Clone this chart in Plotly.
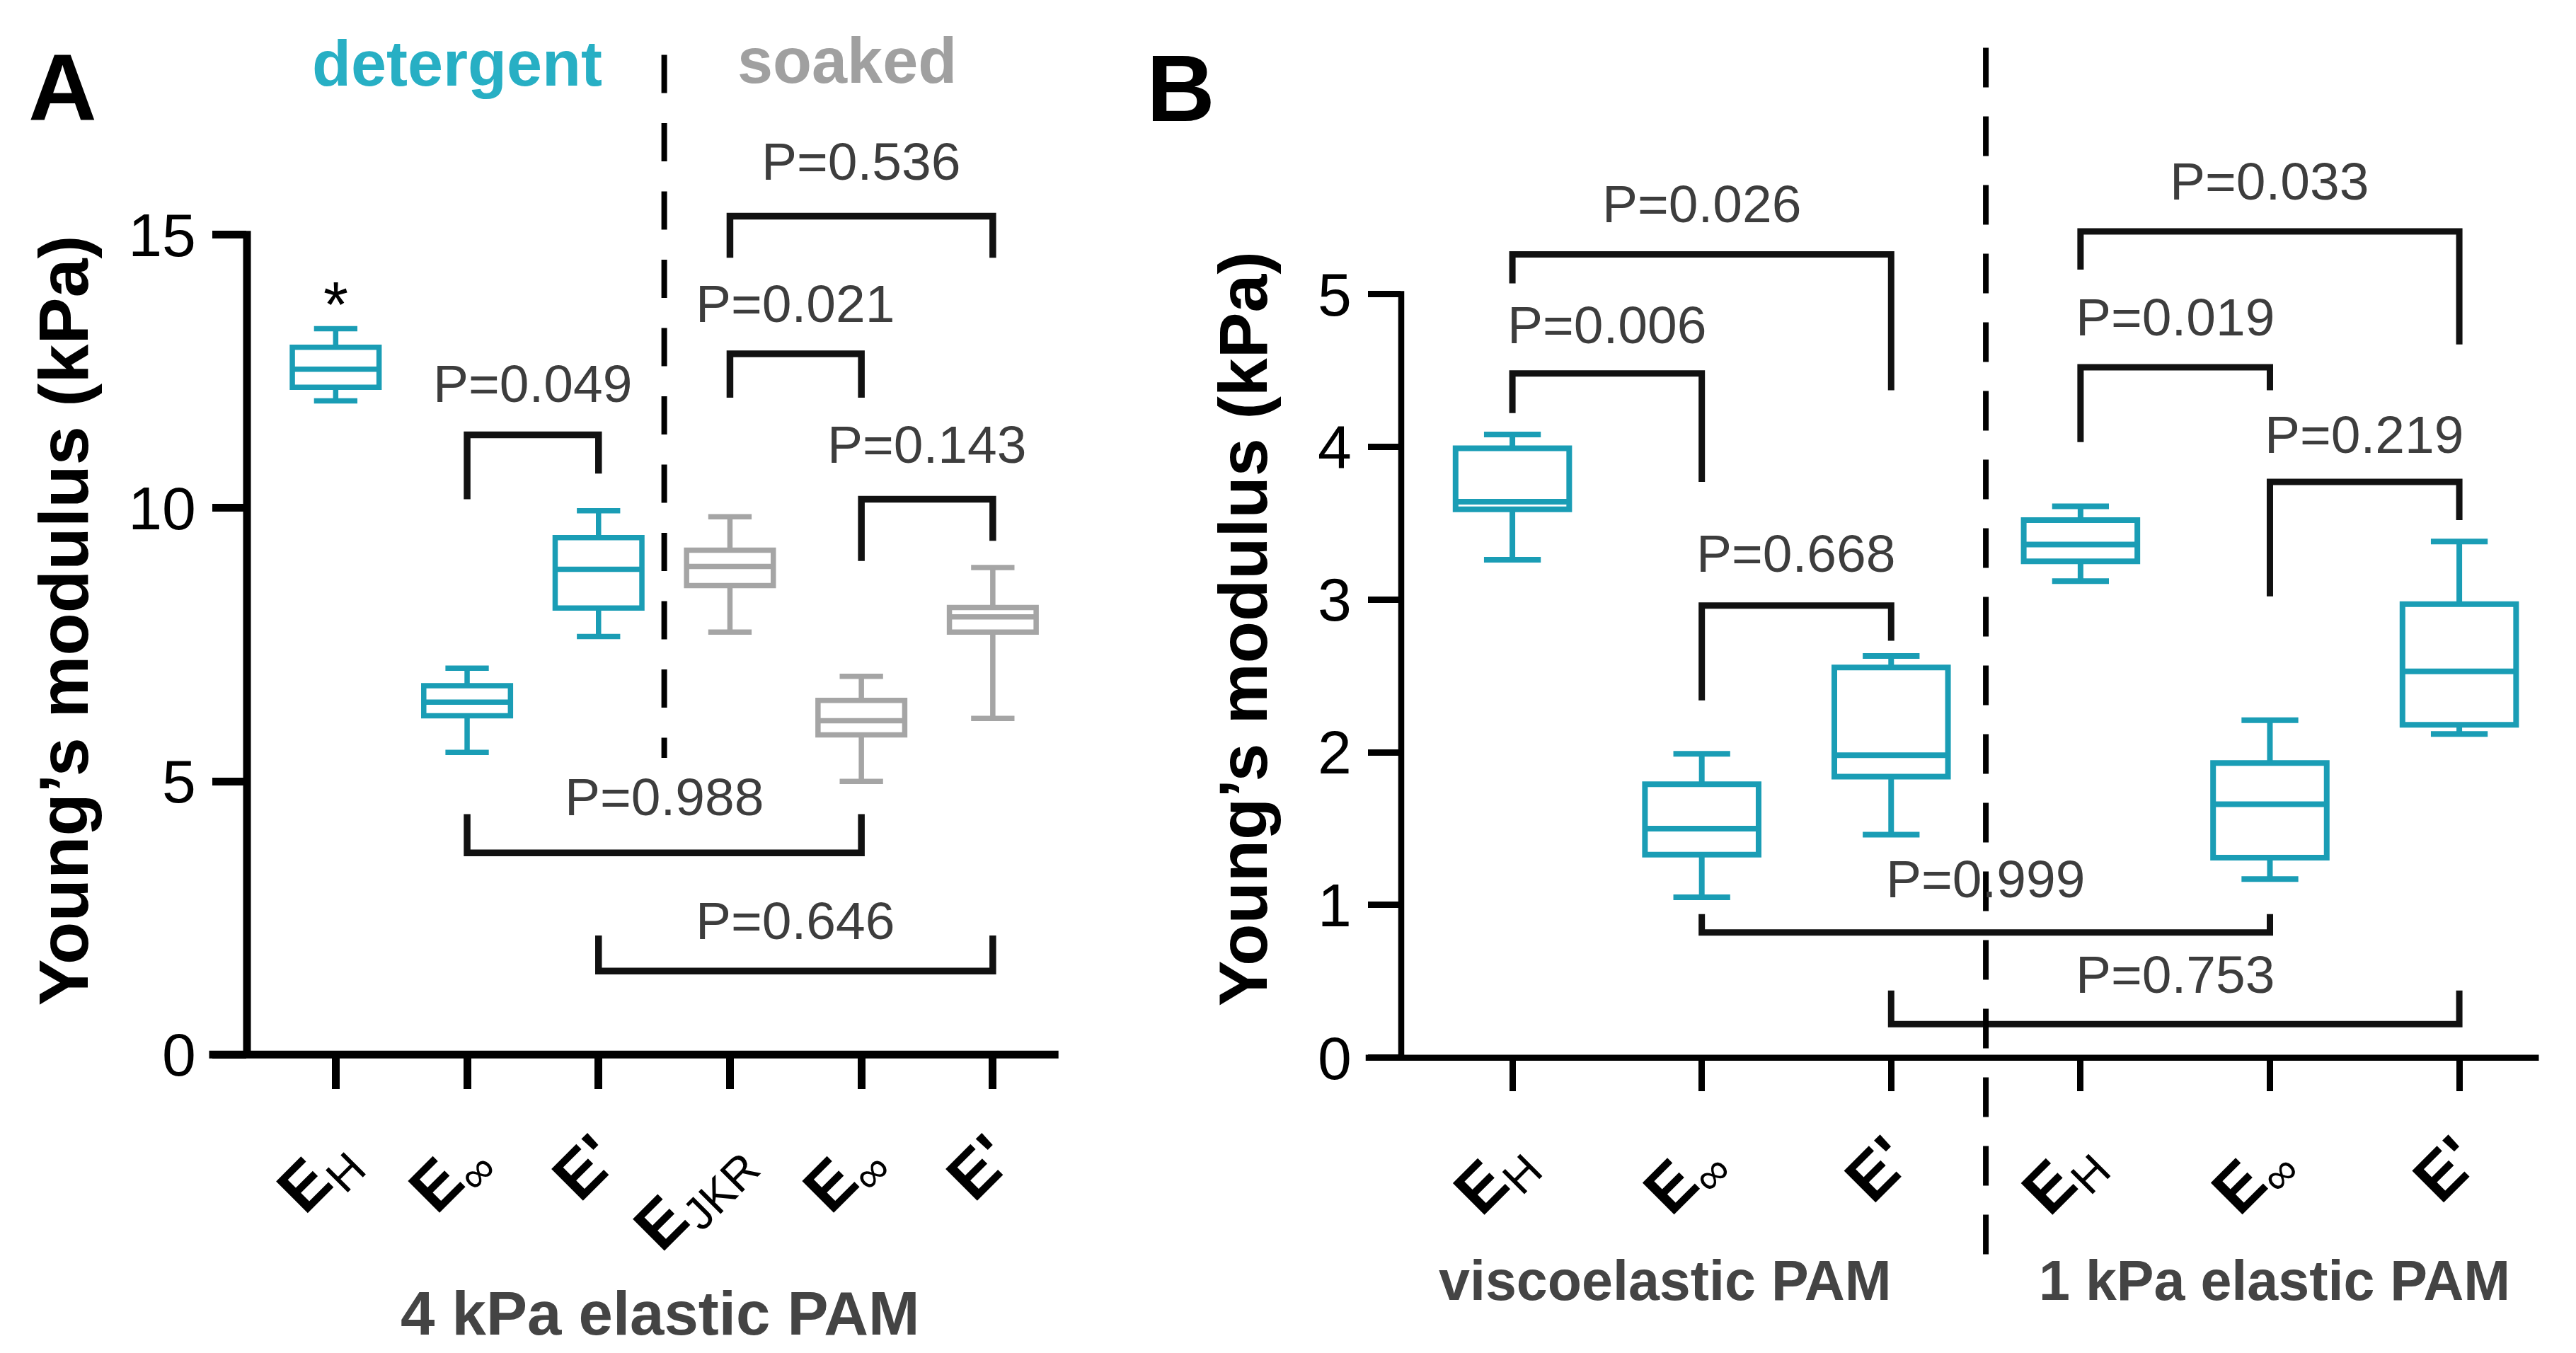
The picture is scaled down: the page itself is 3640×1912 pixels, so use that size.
import plotly.graph_objects as go

W, H = 3640, 1912
FONT = "Liberation Sans, Arial, sans-serif"
TEAL = "#1A9DB5"
TEAL_TXT = "#27AFC4"
GRAY = "#A5A5A5"
GRAY_TXT = "#A0A0A0"
PCOL = "#3d3d3d"

# ---------------- Panel A data ----------------
a_ticktext = ["<b>E</b><sub>H</sub>", "<b>E</b><sub>∞</sub>", "<b>E'</b>",
              "<b>E</b><sub>JKR</sub>", "<b>E</b><sub>∞</sub>", "<b>E'</b>"]
a_x = [0, 1, 2, 3, 4, 5]
a_lower = [11.96, 5.53, 7.65, 7.73, 5.00, 6.15]
a_q1 = [12.21, 6.20, 8.17, 8.58, 5.85, 7.73]
a_med = [12.54, 6.45, 8.88, 8.93, 6.11, 8.01]
a_q3 = [12.94, 6.75, 9.46, 9.23, 6.48, 8.18]
a_upper = [13.28, 7.07, 9.95, 9.84, 6.92, 8.91]
a_group_det = [0, 1, 2]
a_group_soak = [3, 4, 5]
a_yticks = [0, 5, 10, 15]

# brackets: x1, x2, y bar, y left end, y right end, label, label y
a_br_x1 = [1, 3, 3, 4, 1, 2]
a_br_x2 = [2, 4, 5, 5, 4, 5]
a_br_y = [11.34, 12.82, 15.34, 10.16, 3.69, 1.53]
a_br_yl = [10.16, 12.02, 14.58, 9.03, 4.40, 2.18]
a_br_yr = [10.63, 12.02, 14.58, 9.40, 4.40, 2.18]
a_br_lab = ["P=0.049", "P=0.021", "P=0.536", "P=0.143", "P=0.988", "P=0.646"]
a_br_laby = [12.28, 13.74, 16.34, 11.16, 4.72, 2.45]

# ---------------- Panel B data ----------------
b_ticktext = ["<b>E</b><sub>H</sub>", "<b>E</b><sub>∞</sub>", "<b>E'</b>",
              "<b>E</b><sub>H</sub>", "<b>E</b><sub>∞</sub>", "<b>E'</b>"]
b_x = [0, 1, 2, 3, 4, 5]
b_lower = [3.26, 1.05, 1.46, 3.12, 1.17, 2.12]
b_q1 = [3.59, 1.33, 1.84, 3.25, 1.31, 2.18]
b_med = [3.64, 1.50, 1.98, 3.36, 1.66, 2.53]
b_q3 = [3.99, 1.79, 2.555, 3.52, 1.93, 2.97]
b_upper = [4.08, 1.99, 2.63, 3.61, 2.21, 3.38]
b_yticks = [0, 1, 2, 3, 4, 5]

b_br_x1 = [0, 0, 1, 3, 3, 4, 1, 2]
b_br_x2 = [1, 2, 2, 4, 5, 5, 4, 5]
b_br_y = [4.48, 5.26, 2.96, 4.52, 5.41, 3.77, 0.82, 0.22]
b_br_yl = [4.22, 5.07, 2.34, 4.03, 5.16, 3.02, 0.94, 0.44]
b_br_yr = [3.77, 4.37, 2.73, 4.37, 4.67, 3.52, 0.94, 0.44]
b_br_lab = ["P=0.006", "P=0.026", "P=0.668", "P=0.019", "P=0.033", "P=0.219", "P=0.999", "P=0.753"]
b_br_laby = [4.80, 5.59, 3.30, 4.85, 5.74, 4.08, 1.17, 0.545]

# ---------------- geometry (pixels) ----------------
A_XR = [-0.675, 5.5]
A_YR = [0, 18.6]
A_LEFT, A_CAT = 341.0, 185.7
A_ZERO, A_UNIT = 1520.5, 79.23
A_LEN = (A_XR[1] - A_XR[0]) * A_CAT
A_xdom = [A_LEFT / W, (A_LEFT + A_LEN) / W]
A_ydom = [1 - A_ZERO / H, 1 - (A_ZERO - A_YR[1] * A_UNIT) / H]

B_XR = [-0.587, 5.42]
B_YR = [0, 6.85]
B_LEFT, B_CAT = 1972.0, 267.6
B_ZERO, B_UNIT = 1525.0, 221.4
B_LEN = (B_XR[1] - B_XR[0]) * B_CAT
B_xdom = [B_LEFT / W, (B_LEFT + B_LEN) / W]
B_ydom = [1 - B_ZERO / H, 1 - (B_ZERO - B_YR[1] * B_UNIT) / H]

A_AXW, B_AXW = 11, 8.5
A_TICKLEN, B_TICKLEN = 48, 46


def ydom(v, rng):
    return (v - rng[0]) / (rng[1] - rng[0])


fig = go.Figure()


def add_box(xs, idx, lo, q1, md, q3, up, color, width, lw, xa, ya):
    fig.add_trace(go.Box(
        x=[xs[i] for i in idx], q1=[q1[i] for i in idx], median=[md[i] for i in idx],
        q3=[q3[i] for i in idx], lowerfence=[lo[i] for i in idx], upperfence=[up[i] for i in idx],
        width=width, whiskerwidth=0.5, boxpoints=False,
        line=dict(color=color, width=lw), fillcolor="rgba(255,255,255,0)",
        xaxis=xa, yaxis=ya, hoverinfo="skip", showlegend=False))


add_box(a_x, a_group_det, a_lower, a_q1, a_med, a_q3, a_upper, TEAL, 0.66, 7.5, "x", "y")
add_box(a_x, a_group_soak, a_lower, a_q1, a_med, a_q3, a_upper, GRAY, 0.66, 7.5, "x", "y")
add_box(b_x, list(range(6)), b_lower, b_q1, b_med, b_q3, b_upper, TEAL, 0.6, 8, "x2", "y2")

annotations = []


def add_brackets(x1s, x2s, ys, yls, yrs, labs, labys, xa, ya, lw, fs):
    for x1, x2, y, yl, yr, lab, ly in zip(x1s, x2s, ys, yls, yrs, labs, labys):
        fig.add_trace(go.Scatter(x=[x1, x1, x2, x2], y=[yl, y, y, yr], mode="lines",
                                 line=dict(color="#111111", width=lw),
                                 xaxis=xa, yaxis=ya, hoverinfo="skip", showlegend=False))
        annotations.append(dict(x=(x1 + x2) / 2, y=ly, xref=xa, yref=ya, text=lab,
                                showarrow=False, xanchor="center", yanchor="middle",
                                font=dict(family=FONT, size=fs, color=PCOL)))


add_brackets(a_br_x1, a_br_x2, a_br_y, a_br_yl, a_br_yr, a_br_lab, a_br_laby, "x", "y", 9.5, 75)
add_brackets(b_br_x1, b_br_x2, b_br_y, b_br_yl, b_br_yr, b_br_lab, b_br_laby, "x2", "y2", 9, 75)

# star over E_H
annotations.append(dict(x=0, y=13.72, xref="x", yref="y", text="*", showarrow=False,
                        font=dict(family=FONT, size=90, color="black")))


def pa(x, y, text, size, color="black", bold=True, angle=0):
    annotations.append(dict(x=x / W, y=1 - y / H, xref="paper", yref="paper",
                            text=("<b>%s</b>" % text) if bold else text, showarrow=False,
                            xanchor="center", yanchor="middle", textangle=angle,
                            font=dict(family=FONT, size=size, color=color)))


pa(80, 118, "A", 134)
pa(1660, 120, "B", 134)
pa(638, 84, "detergent", 90, TEAL_TXT)
pa(1189, 80, "soaked", 90, GRAY_TXT)
pa(82, 892, "Young’s modulus (kPa)", 99, angle=-90)
pa(1748, 904, "Young’s modulus (kPa)", 97, angle=-90)
pa(924, 1895, "4 kPa elastic PAM", 87, "#444444")
pa(2345, 1848, "viscoelastic PAM", 79, "#444444")
pa(3206, 1848, "1 kPa elastic PAM", 79, "#444444")

shapes = []
# axis lines (GraphPad style)
shapes.append(dict(type="line", xref="x domain", yref="y", x0=0, x1=0, y0=0, y1=15 + A_AXW / 2 / A_UNIT,
                   line=dict(color="black", width=A_AXW)))
shapes.append(dict(type="line", xref="x domain", yref="y domain", x0=-(A_TICKLEN + A_AXW / 2) / A_LEN, x1=1,
                   y0=0, y1=0, line=dict(color="black", width=A_AXW)))
shapes.append(dict(type="line", xref="x2 domain", yref="y2", x0=0, x1=0, y0=0, y1=5 + B_AXW / 2 / B_UNIT,
                   line=dict(color="black", width=B_AXW)))
shapes.append(dict(type="line", xref="x2 domain", yref="y2 domain", x0=-(B_TICKLEN + B_AXW / 2) / B_LEN, x1=1,
                   y0=0, y1=0, line=dict(color="black", width=B_AXW)))
# dashed separators
shapes.append(dict(type="line", xref="x", yref="y domain", x0=2.5, x1=2.5,
                   y0=ydom(18.29, A_YR), y1=ydom(5.43, A_YR),
                   line=dict(color="black", width=8, dash="54px,42.5px")))
shapes.append(dict(type="line", xref="x2", yref="y2 domain", x0=2.5, x1=2.5,
                   y0=ydom(-1.287, B_YR), y1=ydom(6.725, B_YR),
                   line=dict(color="black", width=8, dash="56px,41px")))

common_x = dict(ticks="outside", tickcolor="black", showline=False, showgrid=False, zeroline=False,
                tickangle=-45, tickfont=dict(family=FONT, size=92, color="black"), fixedrange=True,
                ticklabelstandoff=6)
common_y = dict(ticks="outside", tickcolor="black", showline=False, showgrid=False, zeroline=False,
                tickfont=dict(family=FONT, size=86, color="black"), fixedrange=True,
                ticklabelstandoff=6)

fig.update_layout(
    width=W, height=H, autosize=False,
    margin=dict(l=0, r=0, t=0, b=0, pad=0),
    paper_bgcolor="white", plot_bgcolor="rgba(0,0,0,0)", showlegend=False,
    xaxis=dict(domain=A_xdom, range=A_XR, anchor="y", tickvals=a_x, ticktext=a_ticktext,
               ticklen=A_TICKLEN, tickwidth=A_AXW, **common_x),
    yaxis=dict(domain=A_ydom, range=A_YR, anchor="x", tickvals=a_yticks,
               ticklen=A_TICKLEN, tickwidth=A_AXW, **common_y),
    xaxis2=dict(domain=B_xdom, range=B_XR, anchor="y2", tickvals=b_x, ticktext=b_ticktext,
                ticklen=B_TICKLEN, tickwidth=B_AXW, **common_x),
    yaxis2=dict(domain=B_ydom, range=B_YR, anchor="x2", tickvals=b_yticks,
                ticklen=B_TICKLEN, tickwidth=B_AXW, **common_y),
    annotations=annotations, shapes=shapes,
)

fig.write_html("out.html")
